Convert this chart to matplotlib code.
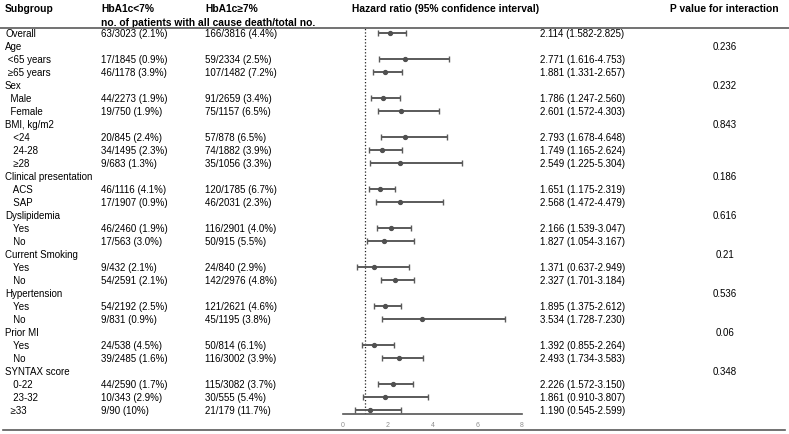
import numpy as np
import matplotlib
matplotlib.use('Agg')
import matplotlib.pyplot as plt
from matplotlib.lines import Line2D
from matplotlib.transforms import blended_transform_factory

plt.rcParams['font.family'] = ['Liberation Sans', 'DejaVu Sans']

# 亚组标签（前导空格表示缩进）
labels = ["Overall", "Age", " <65 years", " ≥65 years", "Sex", "  Male", "  Female",
          "BMI, kg/m2", "   <24", "   24-28", "   ≥28", "Clinical presentation", "   ACS", "   SAP",
          "Dyslipidemia", "   Yes", "   No", "Current Smoking", "   Yes", "   No",
          "Hypertension", "   Yes", "   No", "Prior MI", "   Yes", "   No",
          "SYNTAX score", "   0-22", "   23-32", "  ≥33"]

n_low = ["63/3023 (2.1%)", "", "17/1845 (0.9%)", "46/1178 (3.9%)", "", "44/2273 (1.9%)", "19/750 (1.9%)",
         "", "20/845 (2.4%)", "34/1495 (2.3%)", "9/683 (1.3%)", "", "46/1116 (4.1%)", "17/1907 (0.9%)",
         "", "46/2460 (1.9%)", "17/563 (3.0%)", "", "9/432 (2.1%)", "54/2591 (2.1%)",
         "", "54/2192 (2.5%)", "9/831 (0.9%)", "", "24/538 (4.5%)", "39/2485 (1.6%)",
         "", "44/2590 (1.7%)", "10/343 (2.9%)", "9/90 (10%)"]

n_high = ["166/3816 (4.4%)", "", "59/2334 (2.5%)", "107/1482 (7.2%)", "", "91/2659 (3.4%)", "75/1157 (6.5%)",
          "", "57/878 (6.5%)", "74/1882 (3.9%)", "35/1056 (3.3%)", "", "120/1785 (6.7%)", "46/2031 (2.3%)",
          "", "116/2901 (4.0%)", "50/915 (5.5%)", "", "24/840 (2.9%)", "142/2976 (4.8%)",
          "", "121/2621 (4.6%)", "45/1195 (3.8%)", "", "50/814 (6.1%)", "116/3002 (3.9%)",
          "", "115/3082 (3.7%)", "30/555 (5.4%)", "21/179 (11.7%)"]

nan = np.nan
hr = np.array([2.114, nan, 2.771, 1.881, nan, 1.786, 2.601, nan, 2.793, 1.749, 2.549, nan, 1.651, 2.568,
               nan, 2.166, 1.827, nan, 1.371, 2.327, nan, 1.895, 3.534, nan, 1.392, 2.493,
               nan, 2.226, 1.861, 1.190])
lo = np.array([1.582, nan, 1.616, 1.331, nan, 1.247, 1.572, nan, 1.678, 1.165, 1.225, nan, 1.175, 1.472,
               nan, 1.539, 1.054, nan, 0.637, 1.701, nan, 1.375, 1.728, nan, 0.855, 1.734,
               nan, 1.572, 0.910, 0.545])
hi = np.array([2.825, nan, 4.753, 2.657, nan, 2.560, 4.303, nan, 4.648, 2.624, 5.304, nan, 2.319, 4.479,
               nan, 3.047, 3.167, nan, 2.949, 3.184, nan, 2.612, 7.230, nan, 2.264, 3.583,
               nan, 3.150, 3.807, 2.599])

p_int = ["", "0.236", "", "", "0.232", "", "", "0.843", "", "", "", "0.186", "", "",
         "0.616", "", "", "0.21", "", "", "0.536", "", "", "0.06", "", "",
         "0.348", "", "", ""]

W, H = 789, 435
fig = plt.figure(figsize=(W / 100, H / 100), dpi=100)

# 行位置（像素）
row0, step = 34.3, 12.98
def py(p):
    return (p - row0) / step

ax_top, ax_bot = 29, 415
ax = fig.add_axes([343 / W, 1 - ax_bot / H, (522 - 343) / W, (ax_bot - ax_top) / H])
rows = np.arange(len(labels))
ax.set_xlim(0, 8)
ax.set_ylim(py(ax_bot), py(ax_top))

ax.axvline(1, color='#222222', ls=':', lw=0.9, zorder=1)
ax.errorbar(hr, rows, xerr=[hr - lo, hi - hr], fmt='o', ms=2.8, color='#505050',
            ecolor='#5a5a5a', elinewidth=1.4, capsize=2.2, capthick=1.0, zorder=3)

for s in ['top', 'right', 'left']:
    ax.spines[s].set_visible(False)
ax.spines['bottom'].set_color('#555555')
ax.spines['bottom'].set_linewidth(1.2)
ax.set_yticks([])
ax.set_xticks([0, 2, 4, 6, 8])
ax.tick_params(axis='x', length=0, labelsize=5, labelcolor='#909090', pad=5)
ax.patch.set_alpha(0)

tr = blended_transform_factory(fig.transFigure, ax.transData)
fs = 7
fb = 7.4
for i in rows:
    ax.text(5 / W, i, labels[i], transform=tr, fontsize=fs, va='center', ha='left')
    ax.text(101 / W, i, n_low[i], transform=tr, fontsize=fs, va='center', ha='left')
    ax.text(205 / W, i, n_high[i], transform=tr, fontsize=fs, va='center', ha='left')
    if not np.isnan(hr[i]):
        ax.text(540 / W, i, f"{hr[i]:.3f} ({lo[i]:.3f}-{hi[i]:.3f})", transform=tr,
                fontsize=fs, va='center', ha='left')
    if p_int[i]:
        ax.text(725 / W, i, p_int[i], transform=tr, fontsize=fs, va='center', ha='center')

# 表头
hy = py(9.3)
ax.text(5 / W, hy, "Subgroup", transform=tr, fontsize=fb, fontweight='bold', va='center')
ax.text(101 / W, hy, "HbA1c<7%", transform=tr, fontsize=fb, fontweight='bold', va='center')
ax.text(205 / W, hy, "HbA1c≥7%", transform=tr, fontsize=fb, fontweight='bold', va='center')
ax.text(101 / W, py(23.3), "no. of patients with all cause death/total no.", transform=tr,
        fontsize=fb, fontweight='bold', va='center')
ax.text(446 / W, hy, "Hazard ratio (95% confidence interval)", transform=tr, fontsize=fb,
        fontweight='bold', va='center', ha='center')
ax.text(724 / W, hy, "P value for interaction", transform=tr, fontsize=fb,
        fontweight='bold', va='center', ha='center')

# 横线
fig.add_artist(Line2D([0, 1], [1 - 28.8 / H] * 2, transform=fig.transFigure, color='#5a5a5a', lw=1.2))
fig.add_artist(Line2D([3 / W, 785 / W], [1 - 431 / H] * 2, transform=fig.transFigure, color='#5a5a5a', lw=1.2))

fig.savefig('out.png', dpi=100)
